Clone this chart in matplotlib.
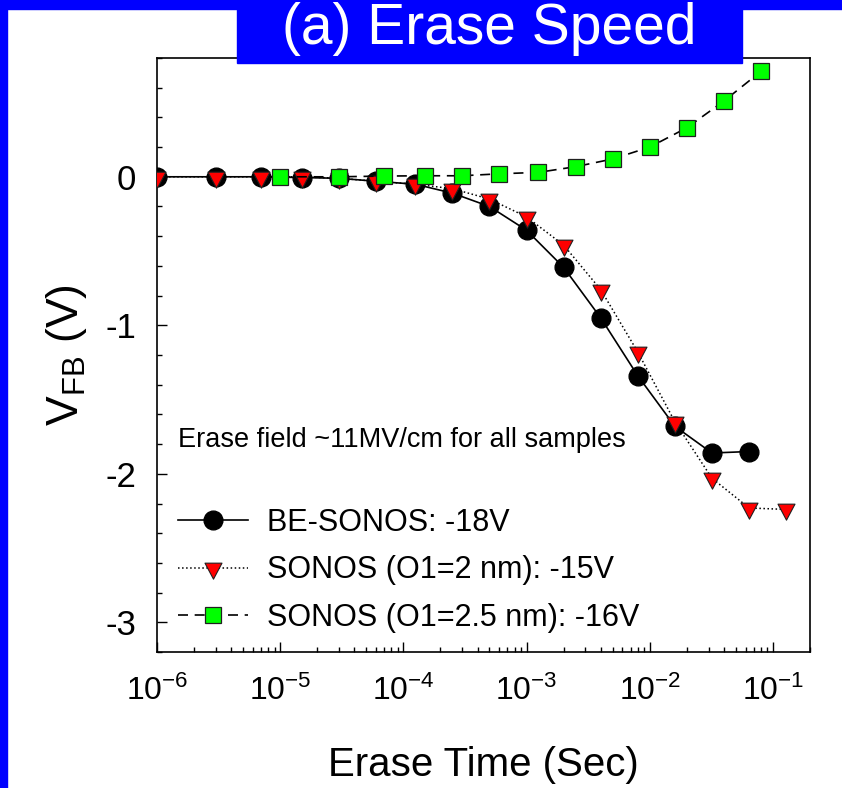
import matplotlib
matplotlib.use("Agg")
import matplotlib.pyplot as plt
from matplotlib import font_manager
from matplotlib.patches import Rectangle
from matplotlib.path import Path
from matplotlib.ticker import MultipleLocator, LogLocator, FixedLocator, NullFormatter

# erase time (s) and flat-band shift (V) for each device
t_be = [1e-6, 3e-6, 7e-6, 1.5e-5, 3e-5, 6e-5, 1.25e-4, 2.5e-4, 5e-4,
        1e-3, 2e-3, 4e-3, 8e-3, 1.6e-2, 3.2e-2, 6.4e-2]
v_be = [0.0, 0.0, 0.0, -0.005, -0.01, -0.03, -0.05, -0.11, -0.2,
        -0.36, -0.61, -0.95, -1.34, -1.68, -1.86, -1.85]

t_2nm = [1e-6, 3e-6, 7e-6, 1.5e-5, 3e-5, 6e-5, 1.25e-4, 2.5e-4, 5e-4,
         1e-3, 2e-3, 4e-3, 8e-3, 1.6e-2, 3.2e-2, 6.4e-2, 1.28e-1]
v_2nm = [0.0, 0.0, 0.0, 0.0, -0.01, -0.03, -0.05, -0.08, -0.15,
         -0.27, -0.46, -0.76, -1.18, -1.65, -2.03, -2.23, -2.24]

t_25nm = [1e-5, 3e-5, 7e-5, 1.5e-4, 3e-4, 6e-4, 1.25e-3, 2.5e-3, 5e-3,
          1e-2, 2e-2, 4e-2, 8e-2]
v_25nm = [0.0, 0.0, 0.005, 0.007, 0.007, 0.02, 0.03, 0.068, 0.12,
          0.20, 0.33, 0.51, 0.71]

labels = ["BE-SONOS: -18V", "SONOS (O1=2 nm): -15V", "SONOS (O1=2.5 nm): -16V"]
xticks = [1e-6, 1e-5, 1e-4, 1e-3, 1e-2, 1e-1]
xticklabels = [r"$10^{-6}$", r"$10^{-5}$", r"$10^{-4}$", r"$10^{-3}$", r"$10^{-2}$", r"$10^{-1}$"]


def pick(*names):
    for n in names:
        try:
            font_manager.findfont(n, fallback_to_default=False)
            return n
        except Exception:
            pass
    return "DejaVu Sans"


narrow = pick("Liberation Sans Narrow", "Liberation Sans")
wide = pick("Liberation Sans")

plt.rcParams["font.family"] = [narrow, "DejaVu Sans"]
plt.rcParams["axes.unicode_minus"] = False
plt.rcParams["mathtext.fontset"] = "custom"
plt.rcParams["mathtext.rm"] = narrow
plt.rcParams["mathtext.it"] = narrow
plt.rcParams["mathtext.default"] = "rm"

W, H = 842, 788
fig = plt.figure(figsize=(W / 100, H / 100), dpi=100)
fig.patch.set_facecolor("white")

# blue slide frame and title tab
blue = "#0000FF"
fig.patches.append(Rectangle((0, 0), 7 / W, 1, transform=fig.transFigure, color=blue, zorder=0))
fig.patches.append(Rectangle((0, 1 - 9 / H), 1, 9 / H, transform=fig.transFigure, color=blue, zorder=0))
ax = fig.add_axes([157 / W, 1 - 652 / H, (810 - 157) / W, (652 - 58) / H])
fig.patches.append(Rectangle((237 / W, 1 - 63 / H), (742 - 237) / W, 63 / H,
                             transform=fig.transFigure, color=blue, zorder=5))
fig.text(489 / W, 1 - 44 / H, "(a) Erase Speed", color="white", fontsize=41,
         family=wide, ha="center", va="baseline", zorder=6)

# down triangle centred on its centroid
tw, th = 17.0, 16.0
tri = Path([(-tw / 2, th / 3), (tw / 2, th / 3), (0, -2 * th / 3), (-tw / 2, th / 3)],
           [Path.MOVETO, Path.LINETO, Path.LINETO, Path.CLOSEPOLY])
tri_ms = 2 * (2 * th / 3) * 72 / 100

ax.plot(t_be, v_be, "-", color="black", lw=1.2, marker="o", ms=13.5,
        mfc="black", mec="black", label=labels[0], zorder=3)
ax.plot(t_2nm, v_2nm, ":", color="black", lw=1.1, marker=tri, ms=tri_ms,
        mfc="#FF0000", mec="#202020", mew=0.8, label=labels[1], zorder=4)
ax.plot(t_25nm, v_25nm, color="black", lw=1.2, dashes=(6, 4), marker="s", ms=11.5,
        mfc="#00FF00", mec="#202020", mew=0.9, label=labels[2], zorder=5)

ax.set_xscale("log")
ax.set_xlim(1e-6, 0.2)
ax.set_ylim(-3.2, 0.8)
ax.xaxis.set_major_locator(FixedLocator(xticks))
ax.set_xticklabels(xticklabels)
ax.xaxis.set_minor_locator(LogLocator(base=10, subs=range(2, 10), numticks=20))
ax.xaxis.set_minor_formatter(NullFormatter())
ax.yaxis.set_major_locator(MultipleLocator(1))
ax.yaxis.set_minor_locator(MultipleLocator(0.2))

for s in ax.spines.values():
    s.set_linewidth(1.2)
ax.tick_params(which="both", direction="in", top=False, right=False, width=1.0)
ax.tick_params(which="major", length=7)
ax.tick_params(which="minor", length=3.5)
ax.tick_params(axis="x", which="major", labelsize=23, pad=17)
ax.tick_params(axis="y", which="major", labelsize=25, pad=15)

ax.set_xlabel("Erase Time (Sec)", fontsize=29, labelpad=28)
ax.set_ylabel(r"V$_{\mathregular{FB}}$ (V)", fontsize=32, labelpad=12)

ax.text(0.032, 0.357, "Erase field ~11MV/cm for all samples", transform=ax.transAxes,
        fontsize=19.5, ha="left", va="center")
ax.legend(loc="upper left", bbox_to_anchor=(0.032, 0.243), frameon=False, fontsize=22,
          handlelength=2.3, handletextpad=0.6, labelspacing=0.58,
          borderpad=0, borderaxespad=0)

fig.savefig("out.png", dpi=100)
